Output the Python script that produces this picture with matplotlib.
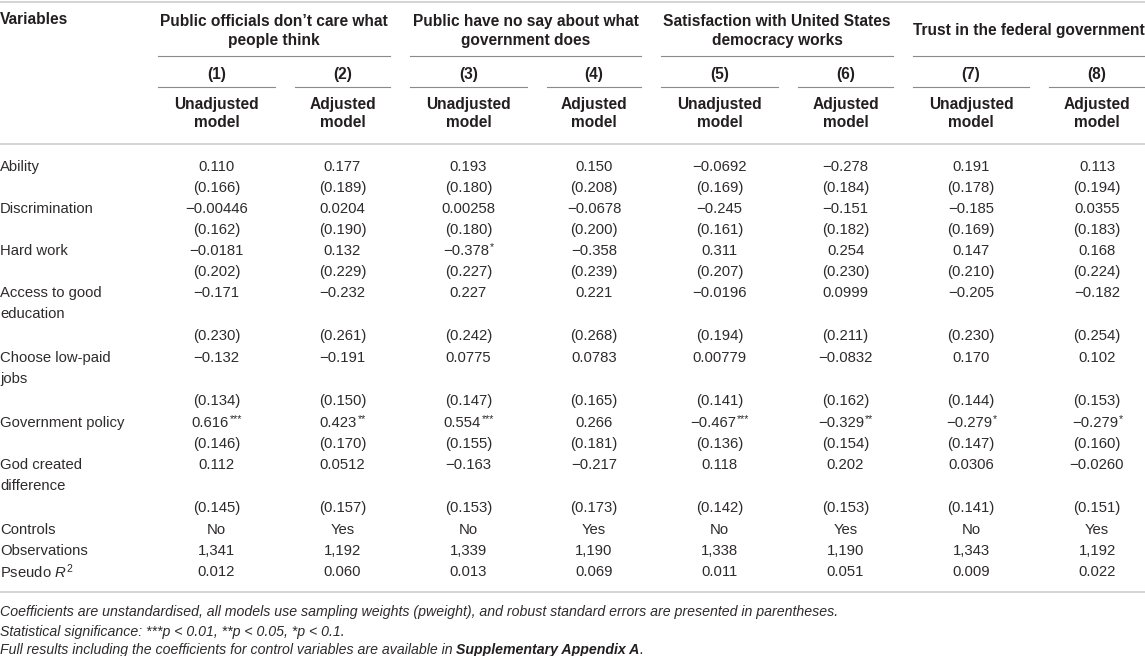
import matplotlib
matplotlib.use("Agg")
import matplotlib.pyplot as plt

plt.rcParams['font.family'] = ['Liberation Sans', 'DejaVu Sans']
plt.rcParams['mathtext.fontset'] = 'custom'
plt.rcParams['mathtext.rm'] = 'Liberation Sans'
plt.rcParams['mathtext.it'] = 'Liberation Sans:italic'

# ---- table content ----
groups = ["Public officials don\u2019t care what\npeople think",
          "Public have no say about what\ngovernment does",
          "Satisfaction with United States\ndemocracy works",
          "Trust in the federal government"]
model_nums = ["(1)", "(2)", "(3)", "(4)", "(5)", "(6)", "(7)", "(8)"]
model_names = ["Unadjusted\nmodel", "Adjusted\nmodel"] * 4

variables = ["Ability", "Discrimination", "Hard work", "Access to good\neducation",
             "Choose low-paid\njobs", "Government policy", "God created\ndifference"]

coefs = [
    ["0.110", "0.177", "0.193", "0.150", "\u22120.0692", "\u22120.278", "0.191", "0.113"],
    ["\u22120.00446", "0.0204", "0.00258", "\u22120.0678", "\u22120.245", "\u22120.151", "\u22120.185", "0.0355"],
    ["\u22120.0181", "0.132", "\u22120.378*", "\u22120.358", "0.311", "0.254", "0.147", "0.168"],
    ["\u22120.171", "\u22120.232", "0.227", "0.221", "\u22120.0196", "0.0999", "\u22120.205", "\u22120.182"],
    ["\u22120.132", "\u22120.191", "0.0775", "0.0783", "0.00779", "\u22120.0832", "0.170", "0.102"],
    ["0.616***", "0.423**", "0.554***", "0.266", "\u22120.467***", "\u22120.329**", "\u22120.279*", "\u22120.279*"],
    ["0.112", "0.0512", "\u22120.163", "\u22120.217", "0.118", "0.202", "0.0306", "\u22120.0260"],
]
ses = [
    ["(0.166)", "(0.189)", "(0.180)", "(0.208)", "(0.169)", "(0.184)", "(0.178)", "(0.194)"],
    ["(0.162)", "(0.190)", "(0.180)", "(0.200)", "(0.161)", "(0.182)", "(0.169)", "(0.183)"],
    ["(0.202)", "(0.229)", "(0.227)", "(0.239)", "(0.207)", "(0.230)", "(0.210)", "(0.224)"],
    ["(0.230)", "(0.261)", "(0.242)", "(0.268)", "(0.194)", "(0.211)", "(0.230)", "(0.254)"],
    ["(0.134)", "(0.150)", "(0.147)", "(0.165)", "(0.141)", "(0.162)", "(0.144)", "(0.153)"],
    ["(0.146)", "(0.170)", "(0.155)", "(0.181)", "(0.136)", "(0.154)", "(0.147)", "(0.160)"],
    ["(0.145)", "(0.157)", "(0.153)", "(0.173)", "(0.142)", "(0.153)", "(0.141)", "(0.151)"],
]
controls = ["No", "Yes"] * 4
observations = ["1,341", "1,192", "1,339", "1,190", "1,338", "1,190", "1,343", "1,192"]
pseudo_r2 = ["0.012", "0.060", "0.013", "0.069", "0.011", "0.051", "0.009", "0.022"]

notes = ["Coefficients are unstandardised, all models use sampling weights (pweight), and robust standard errors are presented in parentheses.",
         "Statistical significance: ***p < 0.01, **p < 0.05, *p < 0.1."]
last_note = "Full results including the coefficients for control variables are available in "
last_note_bold = "Supplementary Appendix A"

# ---- layout ----
W, H = 1145, 656
fig = plt.figure(figsize=(W / 100, H / 100), dpi=100)
ax = fig.add_axes([0, 0, 1, 1])
ax.set_xlim(0, W)
ax.set_ylim(H, 0)
ax.axis('off')

fs = 10.7      # body
bfs = 11.2     # bold headers
nfs = 10.2     # notes
ink = '#231f20'
body_ink = '#2e2b2c'
rule = '#d4d4d4'
sub = '#8a8a8a'

col_spans = [(158, 275), (295, 390), (410, 527), (547, 641),
             (661, 778), (798, 893), (913, 1029), (1049, 1145)]
col_x = [(a + b) / 2 for a, b in col_spans]

renderer = fig.canvas.get_renderer()


def cell(x, y, s):
    # number with superscript stars, whole thing centred
    base = s.rstrip('*')
    stars = s[len(base):]
    t = ax.text(x, y, base, ha='left', va='center', fontsize=fs, color=body_ink)
    if not stars:
        t.set_ha('center')
        return
    st = ax.text(x, y - 4, stars, ha='left', va='center', fontsize=fs * 0.72, color=body_ink)
    w1 = t.get_window_extent(renderer).width
    w2 = st.get_window_extent(renderer).width
    left = x - (w1 + w2) / 2
    t.set_x(left)
    st.set_x(left + w1 + 0.5)


# top rule and header
ax.plot([0, W], [1.5, 1.5], color=rule, lw=1.4)
ax.text(0, 20, "Variables", ha='left', va='center', fontsize=bfs, fontweight='bold', color=ink)

for g, name in enumerate(groups):
    a = col_spans[2 * g][0]
    b = col_spans[2 * g + 1][1]
    ax.text((a + b) / 2, 31, name, ha='center', va='center', fontsize=bfs,
            fontweight='bold', color=ink, linespacing=1.35)
    ax.plot([a, b], [55.5, 55.5], color=sub, lw=0.8)

for i, (a, b) in enumerate(col_spans):
    ax.text(col_x[i], 74.5, model_nums[i], ha='center', va='center', fontsize=bfs,
            fontweight='bold', color=ink)
    ax.plot([a, b], [87, 87], color=sub, lw=0.8)
    ax.text(col_x[i], 113.5, model_names[i], ha='center', va='center', fontsize=bfs,
            fontweight='bold', color=ink, linespacing=1.2)

ax.plot([0, W], [143.5, 143.5], color=rule, lw=1.4)

# body
step = 21
y = 167
for r, var in enumerate(variables):
    lines = var.split('\n')
    ax.text(0, y, lines[0], ha='left', va='center', fontsize=fs, color=body_ink)
    for i in range(8):
        cell(col_x[i], y, coefs[r][i])
    if len(lines) > 1:
        y += step
        ax.text(0, y, lines[1], ha='left', va='center', fontsize=fs, color=body_ink)
        y += 1
    y += step
    for i in range(8):
        cell(col_x[i], y, ses[r][i])
    y += step
    if len(lines) > 1:
        y += 1

for label, vals in [("Controls", controls), ("Observations", observations),
                    ("Pseudo $R^2$", pseudo_r2)]:
    ax.text(0, y, label, ha='left', va='center', fontsize=fs, color=body_ink)
    for i in range(8):
        cell(col_x[i], y, vals[i])
    y += step

ax.plot([0, W], [591.5, 591.5], color=rule, lw=1.4)

# notes
ny = [612, 632, 650]
for k, n in enumerate(notes):
    ax.text(0, ny[k], n, ha='left', va='center', fontsize=nfs, style='italic', color=body_ink)
t = ax.text(0, ny[2], last_note, ha='left', va='center', fontsize=nfs, style='italic', color=body_ink)
w = t.get_window_extent(renderer).width
tb = ax.text(w, ny[2], last_note_bold, ha='left', va='center', fontsize=nfs,
             style='italic', fontweight='bold', color=ink)
wb = tb.get_window_extent(renderer).width
ax.text(w + wb, ny[2], ".", ha='left', va='center', fontsize=nfs, style='italic', color=body_ink)

fig.savefig("out.png", dpi=100)
